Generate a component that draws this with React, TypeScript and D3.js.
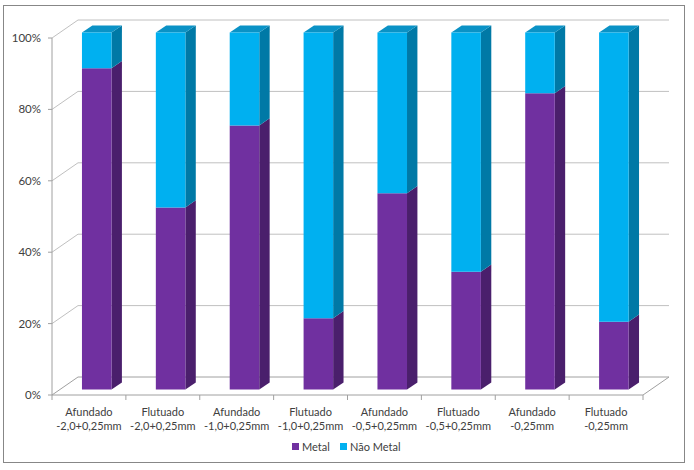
import React from "react";
import * as d3 from "d3";

const categories = [
  ["Afundado", "-2,0+0,25mm"],
  ["Flutuado", "-2,0+0,25mm"],
  ["Afundado", "-1,0+0,25mm"],
  ["Flutuado", "-1,0+0,25mm"],
  ["Afundado", "-0,5+0,25mm"],
  ["Flutuado", "-0,5+0,25mm"],
  ["Afundado", "-0,25mm"],
  ["Flutuado", "-0,25mm"],
];
const metal = [90, 51, 74, 20, 55, 33, 83, 19];
const naoMetal = metal.map((m) => 100 - m);
const yTicks = [0, 20, 40, 60, 80, 100];
const seriesNames = ["Metal", "Não Metal"];

const W = 694;
const H = 470;
const FX0 = 52;
const FX1 = 643;
const FY0 = 395;
const FY1 = 38;
const DX = 26;
const DY = -18;
const D0 = 0.3;
const D1 = 0.7;

const colors = {
  metal: { front: "#7030A0", side: "#4A1F6C", top: "#5C2888" },
  nao: { front: "#00B0F0", side: "#0079A6", top: "#0A92C6" },
};
const font = "Lato, 'Open Sans', sans-serif";

export default function App() {
  const x = d3.scaleBand<number>().domain(d3.range(categories.length)).range([FX0, FX1]).paddingInner(0).paddingOuter(0);
  const y = d3.scaleLinear().domain([0, 100]).range([FY0, FY1]);
  const barW = x.bandwidth() * 0.4;
  const P = (px: number, py: number, d: number) => [px + d * DX, py + d * DY];
  const poly = (pts: number[][]) => pts.map((p) => p.join(",")).join(" ");

  const grid = "#C0C0C0";
  const axis = "#A0A0A0";

  const box = (cx: number, v0: number, v1: number, c: { front: string; side: string; top: string }, key: string, drawTop: boolean) => {
    const xl = cx - barW / 2;
    const xr = cx + barW / 2;
    const yb = y(v0);
    const yt = y(v1);
    const front = [P(xl, yb, D0), P(xr, yb, D0), P(xr, yt, D0), P(xl, yt, D0)];
    const side = [P(xr, yb, D0), P(xr, yb, D1), P(xr, yt, D1), P(xr, yt, D0)];
    const top = [P(xl, yt, D0), P(xr, yt, D0), P(xr, yt, D1), P(xl, yt, D1)];
    return (
      <g key={key}>
        <polygon points={poly(side)} fill={c.side} />
        {drawTop && <polygon points={poly(top)} fill={c.top} />}
        <polygon points={poly(front)} fill={c.front} />
      </g>
    );
  };

  return (
    <svg width={W} height={H} style={{ position: "absolute", left: 0, top: 0 }}>
      <rect x={0} y={0} width={W} height={H} fill="#fff" />
      <rect x={3.5} y={5.5} width={681} height={457} fill="#fff" stroke="#878787" strokeWidth={1} />
      {yTicks.map((t) => {
        const yf = y(t);
        const b = P(FX0, yf, 1);
        const br = P(FX1, yf, 1);
        return (
          <g key={"g" + t}>
            <line x1={FX0} y1={yf} x2={b[0]} y2={b[1]} stroke={t === 0 ? axis : grid} />
            <line x1={b[0]} y1={b[1]} x2={br[0]} y2={br[1]} stroke={t === 0 ? axis : grid} />
            <line x1={FX0 - 4} y1={yf} x2={FX0} y2={yf} stroke={axis} />
            <text x={41} y={yf} dy="0.35em" textAnchor="end" fontFamily={font} fontSize={11.5} fill="#404040">
              {t}%
            </text>
          </g>
        );
      })}
      <line x1={FX0} y1={FY0} x2={FX1} y2={FY0} stroke={axis} />
      <line x1={FX1} y1={FY0} x2={P(FX1, FY0, 1)[0]} y2={P(FX1, FY0, 1)[1]} stroke={axis} />
      <line x1={FX0} y1={FY0} x2={FX0} y2={FY1} stroke={axis} />
      {d3.range(categories.length + 1).map((i) => {
        const xx = FX0 + i * x.step();
        return <line key={"ct" + i} x1={xx} y1={FY0} x2={xx} y2={FY0 + 5} stroke={axis} />;
      })}
      {categories.map((_, i) => {
        const cx = (x(i) as number) + x.bandwidth() / 2;
        return (
          <g key={"b" + i}>
            {box(cx, 0, metal[i], colors.metal, "m", false)}
            {box(cx, metal[i], metal[i] + naoMetal[i], colors.nao, "n", true)}
          </g>
        );
      })}
      {categories.map((c, i) => {
        const cx = (x(i) as number) + x.bandwidth() / 2;
        return (
          <text key={"cl" + i} textAnchor="middle" fontFamily={font} fontSize={11} fill="#404040">
            <tspan x={cx} y={416}>{c[0]}</tspan>
            <tspan x={cx} y={430}>{c[1]}</tspan>
          </text>
        );
      })}
      <g fontFamily={font} fontSize={11} fill="#404040">
        <rect x={292} y={443} width={7} height={7} fill={colors.metal.front} />
        <text x={302} y={447} dy="0.35em">{seriesNames[0]}</text>
        <rect x={340} y={443} width={7} height={7} fill={colors.nao.front} />
        <text x={350} y={447} dy="0.35em">{seriesNames[1]}</text>
      </g>
    </svg>
  );
}
